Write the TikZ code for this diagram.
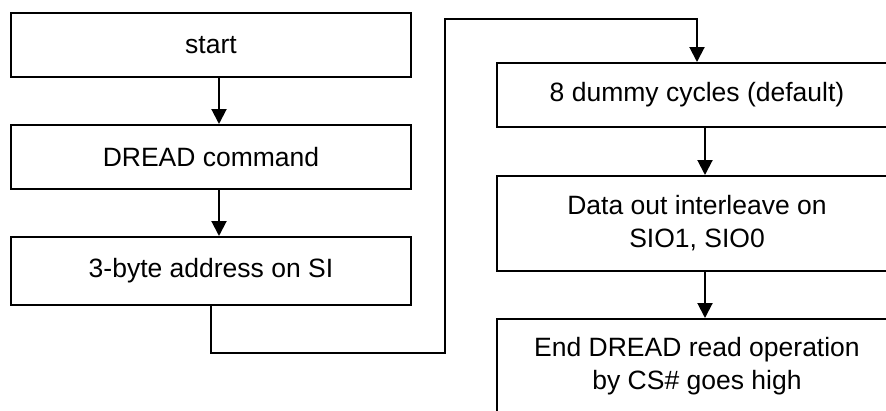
\documentclass[tikz,border=0pt]{standalone}
\usepackage{fontspec}
\setmainfont{Liberation Sans}
\usetikzlibrary{arrows.meta}
\begin{document}
\begin{tikzpicture}[x=1pt,y=-1pt,
  box/.style={draw, line width=2pt, minimum width=400pt, inner sep=0pt, align=center,
    font=\fontsize{26.5}{33}\selectfont},
  arr/.style={line width=2pt, -{Triangle[length=15pt,width=15pt]}},
  line/.style={line width=2pt}]
\useasboundingbox (0,0) rectangle (886,410);
\clip (0,0) rectangle (886,410);
\node[box, minimum height=64pt] (b1) at (211,45) {start};
\node[box, minimum height=64pt] (b2) at (211,157) {DREAD command};
\node[box, minimum height=68pt] (b3) at (211,271) {3-byte address on SI};
\node[box, minimum height=64pt] (b4) at (697,95) {8 dummy cycles (default)};
\node[box, minimum height=95pt] (b5) at (697,223.5) {Data out interleave on\\SIO1, SIO0};
\node[box, minimum height=95pt] (b6) at (697,366.5) {End DREAD read operation\\by CS\# goes high};
\coordinate (c1) at (445,353);
\coordinate (c2) at (445,19);
\draw[arr] ([xshift=8pt]b1.south) -- ([xshift=8pt]b2.north);
\draw[arr] ([xshift=8pt]b2.south) -- ([xshift=8pt]b3.north);
\draw[arr] (b3.south) |- (c1) -- (c2) -| (b4.north);
\draw[arr] ([xshift=8pt]b4.south) -- ([xshift=8pt]b5.north);
\draw[arr] ([xshift=8pt]b5.south) -- ([xshift=8pt]b6.north);
\end{tikzpicture}
\end{document}
